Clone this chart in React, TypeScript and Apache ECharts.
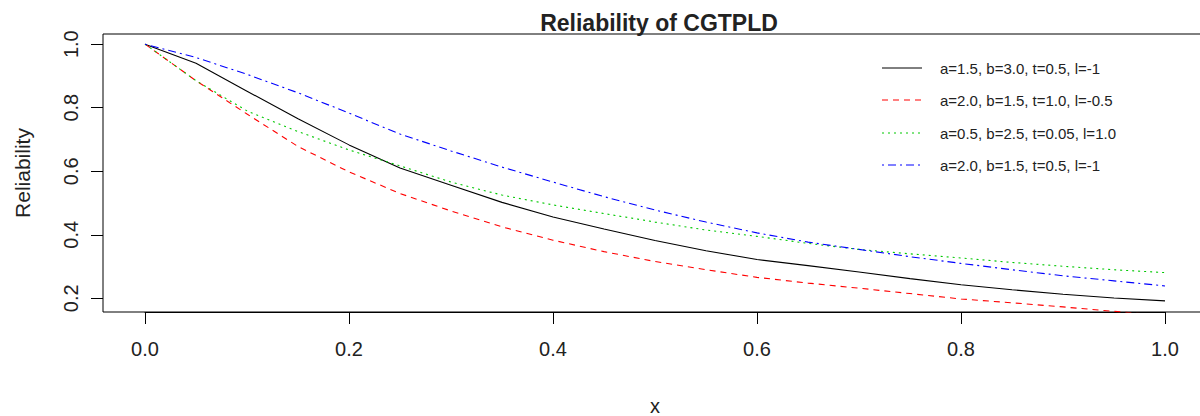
import React, { useEffect, useRef } from "react";
import * as echarts from "echarts";

const xValues = [0, 0.05, 0.1, 0.15, 0.2, 0.25, 0.3, 0.35, 0.4, 0.45, 0.5, 0.55, 0.6, 0.65, 0.7, 0.75, 0.8, 0.85, 0.9, 0.95, 1.0];

const seriesNames = [
  "a=1.5, b=3.0, t=0.5, l=-1",
  "a=2.0, b=1.5, t=1.0, l=-0.5",
  "a=0.5, b=2.5, t=0.05, l=1.0",
  "a=2.0, b=1.5, t=0.5, l=-1",
];

const blackValues = [1.0, 0.94, 0.852, 0.765, 0.683, 0.61, 0.556, 0.502, 0.456, 0.418, 0.382, 0.35, 0.322, 0.303, 0.283, 0.262, 0.243, 0.227, 0.213, 0.201, 0.192];
const redValues = [1.0, 0.885, 0.78, 0.678, 0.598, 0.53, 0.475, 0.425, 0.383, 0.347, 0.316, 0.29, 0.266, 0.248, 0.232, 0.215, 0.198, 0.186, 0.173, 0.159, 0.146];
const greenValues = [1.0, 0.885, 0.79, 0.725, 0.667, 0.617, 0.566, 0.525, 0.494, 0.467, 0.44, 0.415, 0.395, 0.373, 0.354, 0.34, 0.327, 0.313, 0.301, 0.29, 0.281];
const blueValues = [1.0, 0.958, 0.905, 0.847, 0.783, 0.717, 0.664, 0.613, 0.566, 0.52, 0.478, 0.44, 0.406, 0.377, 0.354, 0.331, 0.31, 0.29, 0.271, 0.255, 0.239];

const xTicks = [0, 0.2, 0.4, 0.6, 0.8, 1.0];
const yTicks = [0.2, 0.4, 0.6, 0.8, 1.0];

const colors = ["#000000", "#ff0000", "#00c800", "#0000ff"];
const dashes: any[] = ["solid", [6, 5], [2, 4], [2, 4, 8, 4]];
const allValues = [blackValues, redValues, greenValues, blueValues];

const Y_MIN = 0.157;
const Y_MAX = 1.032;

export default function App() {
  const ref = useRef<HTMLDivElement>(null);
  useEffect(() => {
    if (!ref.current) return;
    const chart = echarts.init(ref.current, null, { renderer: "svg" });
    const font = "'Liberation Sans', Arial, sans-serif";
    const legendX1 = 882;
    const legendX2 = 922;
    const legendTextX = 940;
    const legendRows = [68, 100, 133, 165];
    const legendGraphics: any[] = [];
    seriesNames.forEach((name, i) => {
      legendGraphics.push({
        type: "line",
        shape: { x1: legendX1, y1: legendRows[i], x2: legendX2, y2: legendRows[i] },
        style: { stroke: colors[i], lineWidth: 1, lineDash: dashes[i] === "solid" ? null : dashes[i] },
        z: 10,
      });
      legendGraphics.push({
        type: "text",
        x: legendTextX,
        y: legendRows[i],
        style: { text: name, fill: "#222", font: `15px ${font}`, verticalAlign: "middle" },
        z: 10,
      });
    });

    const lineSeries = allValues.map((vals, i) => ({
      name: seriesNames[i],
      type: "line",
      xAxisIndex: 0,
      yAxisIndex: 0,
      data: xValues.map((x, j) => [x, vals[j]]),
      showSymbol: false,
      symbol: "none",
      smooth: false,
      clip: true,
      lineStyle: { color: colors[i], width: 1.1, type: dashes[i] },
    }));

    chart.setOption({
      animation: false,
      backgroundColor: "#ffffff",
      title: {
        text: "Reliability of CGTPLD",
        left: 654,
        textAlign: "center",
        top: 6,
        textStyle: { fontFamily: font, fontWeight: "bold", fontSize: 23, color: "#222" },
      },
      grid: [
        {
          left: 103,
          top: 34,
          width: 1103,
          height: 278,
          show: true,
          borderColor: "#000",
          borderWidth: 1,
          containLabel: false,
          outerBoundsMode: "none",
        },
        {
          left: 145,
          top: 34,
          width: 1020,
          height: 278,
          show: false,
          containLabel: false,
          outerBoundsMode: "none",
        },
      ],
      xAxis: [
        {
          type: "value",
          gridIndex: 0,
          min: -0.0412,
          max: 1.0402,
          axisLine: { show: false, onZero: false },
          splitLine: { show: false },
          axisTick: { show: false },
          axisLabel: { show: false },
        },
        {
          type: "value",
          gridIndex: 1,
          position: "bottom",
          min: 0,
          max: 1,
          interval: 0.2,
          name: "x",
          nameLocation: "middle",
          nameGap: 84,
          nameTextStyle: { fontFamily: font, fontSize: 20, color: "#222" },
          axisLine: { show: true, onZero: false, lineStyle: { color: "#000", width: 1 } },
          splitLine: { show: false },
          axisTick: { show: true, inside: false, length: 12, lineStyle: { color: "#000", width: 1 } },
          axisLabel: {
            margin: 27,
            fontFamily: font,
            fontSize: 20,
            color: "#222",
            formatter: (v: number) => v.toFixed(1),
          },
        },
      ],
      yAxis: [
        {
          type: "value",
          gridIndex: 0,
          min: Y_MIN,
          max: Y_MAX,
          name: "Reliability",
          nameLocation: "middle",
          nameGap: 70,
          nameRotate: 90,
          nameTextStyle: { fontFamily: font, fontSize: 21, color: "#222" },
          axisLine: { show: false, onZero: false },
          splitLine: { show: false },
          axisTick: { show: true, length: 12, customValues: yTicks, lineStyle: { color: "#000", width: 1 } },
          axisLabel: {
            customValues: yTicks,
            rotate: 90,
            margin: 22,
            fontFamily: font,
            fontSize: 20,
            color: "#222",
            formatter: (v: number) => v.toFixed(1),
          },
        },
        {
          type: "value",
          gridIndex: 1,
          min: 0,
          max: 1,
          show: false,
        },
      ],
      series: lineSeries,
      graphic: legendGraphics,
    });

    const tickGraphics: any[] = xTicks.map((t) => {
      const p = chart.convertToPixel({ xAxisIndex: 0, yAxisIndex: 0 }, [t, Y_MIN]) as number[];
      return {
        type: "rect",
        shape: { x: Math.round(p[0]), y: Math.round(p[1]), width: 1, height: 12 },
        style: { fill: "#000" },
        z: 20,
      };
    });
    chart.setOption({ graphic: [...legendGraphics, ...tickGraphics] });

    return () => chart.dispose();
  }, []);
  return <div ref={ref} style={{ position: "absolute", left: 0, top: 0, width: 1200, height: 416 }} />;
}
